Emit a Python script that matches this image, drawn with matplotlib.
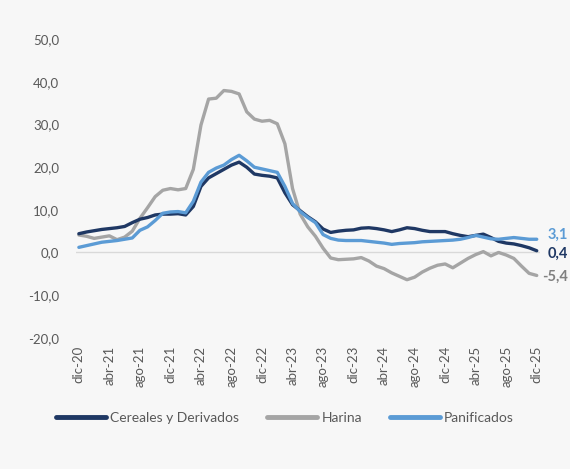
import numpy as np
import matplotlib
matplotlib.use('Agg')
import matplotlib.pyplot as plt
from matplotlib.ticker import FuncFormatter

plt.rcParams['font.family'] = ['Lato', 'DejaVu Sans']

# monthly series, dic-20 to dic-25
meses = ['ene', 'feb', 'mar', 'abr', 'may', 'jun', 'jul', 'ago', 'sep', 'oct', 'nov', 'dic']
periodos = ['dic-20'] + [f'{m}-{a}' for a in range(21, 26) for m in meses]

cereales = [4.4, 4.8, 5.1, 5.4, 5.6, 5.8, 6.1, 7.0, 7.8, 8.2, 8.8, 9.0, 9.0, 9.1, 8.8,
            10.8, 15.5, 17.5, 18.5, 19.5, 20.5, 21.2, 20.0, 18.4, 18.1, 17.9, 17.5, 14.0,
            11.2, 9.8, 8.4, 7.2, 5.5, 4.7, 5.0, 5.2, 5.3, 5.7, 5.8, 5.6, 5.3, 4.9, 5.3,
            5.8, 5.6, 5.2, 4.9, 4.9, 4.9, 4.4, 4.0, 3.7, 4.0, 4.3, 3.5, 2.6, 2.2, 2.0,
            1.6, 1.1, 0.4]
harina = [4.1, 3.8, 3.3, 3.6, 3.9, 3.0, 3.6, 5.0, 8.0, 10.5, 13.1, 14.6, 15.0, 14.7, 15.0,
          19.5, 29.9, 36.0, 36.2, 38.0, 37.8, 37.2, 33.0, 31.3, 30.8, 31.0, 30.2, 25.5,
          15.0, 9.0, 6.0, 3.8, 1.0, -1.3, -1.7, -1.6, -1.5, -1.2, -2.0, -3.2, -3.8, -4.8,
          -5.6, -6.4, -5.8, -4.6, -3.7, -3.0, -2.7, -3.6, -2.5, -1.4, -0.5, 0.2, -0.8,
          0.0, -0.6, -1.4, -3.2, -4.9, -5.4]
panificados = [1.2, 1.6, 2.0, 2.4, 2.6, 2.8, 3.1, 3.4, 5.2, 6.0, 7.5, 9.2, 9.5, 9.6, 9.3,
               12.0, 16.5, 18.8, 19.8, 20.5, 21.8, 22.8, 21.5, 20.0, 19.6, 19.2, 18.8, 15.5,
               11.5, 9.6, 8.2, 7.0, 4.2, 3.3, 2.9, 2.8, 2.8, 2.8, 2.6, 2.4, 2.2, 1.9, 2.1,
               2.2, 2.3, 2.5, 2.6, 2.7, 2.8, 2.9, 3.1, 3.5, 4.0, 3.6, 3.2, 3.1, 3.3, 3.5,
               3.3, 3.1, 3.1]

c_cer = '#1F3864'
c_har = '#A5A5A5'
c_pan = '#5B9BD5'
gris = '#595959'
fondo = '#F7F7F7'

fig = plt.figure(figsize=(5.7, 4.69), dpi=100, facecolor=fondo)
ax = fig.add_axes([0.133, 0.28, 0.814, 0.636], facecolor=fondo)

x = np.arange(len(periodos))
ax.plot(x, cereales, color=c_cer, lw=2.4, label='Cereales y Derivados', solid_capstyle='round', zorder=3)
ax.plot(x, harina, color=c_har, lw=2.4, label='Harina', solid_capstyle='round', zorder=2)
ax.plot(x, panificados, color=c_pan, lw=2.4, label='Panificados', solid_capstyle='round', zorder=4)

ax.axhline(0, color='#D9D9D9', lw=1, zorder=1)

ax.set_ylim(-20, 50)
ax.set_yticks(np.arange(-20, 51, 10))
ax.yaxis.set_major_formatter(FuncFormatter(lambda v, p: f'{v:.1f}'.replace('.', ',')))
ax.set_xlim(-0.4, 60.4)
ax.set_xticks(x[::4])
ax.set_xticklabels(periodos[::4], rotation=90)
ax.tick_params(axis='both', length=0, colors=gris, labelsize=9.5)
ax.tick_params(axis='y', pad=12)
ax.tick_params(axis='x', pad=6)
for s in ax.spines.values():
    s.set_visible(False)

# end-of-series labels
ax.annotate('3,1', (x[-1], panificados[-1]), xytext=(8, 3), textcoords='offset points',
            color=c_pan, fontsize=10.5, fontweight='bold', va='center', ha='left')
ax.annotate('0,4', (x[-1], cereales[-1]), xytext=(8, -2), textcoords='offset points',
            color=c_cer, fontsize=10.5, fontweight='bold', va='center', ha='left')
ax.annotate('-5,4', (x[-1], harina[-1]), xytext=(4, -1), textcoords='offset points',
            color='#808080', fontsize=10.5, fontweight='bold', va='center', ha='left')

leg = fig.legend(loc='center', bbox_to_anchor=(0.5, 0.108), ncol=3, frameon=False,
                 fontsize=10, handlelength=3.6, handletextpad=0.3, columnspacing=2.0)
for t in leg.get_texts():
    t.set_color(gris)
for h in leg.get_lines():
    h.set_linewidth(3.5)

fig.savefig('out.png', dpi=100, facecolor=fondo)
